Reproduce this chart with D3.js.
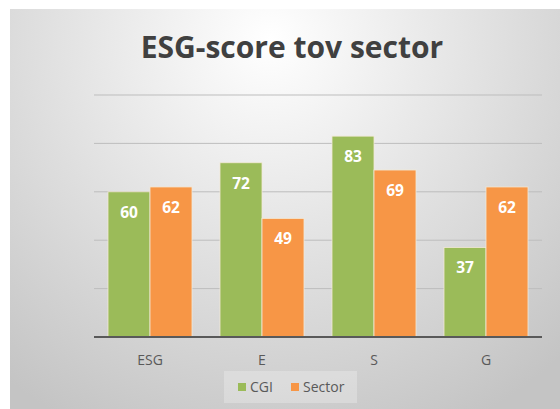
<!DOCTYPE html>
<html>
<head>
<meta charset="utf-8">
<script src="https://cdn.jsdelivr.net/npm/d3@7"></script>
<style>
  html, body { margin: 0; padding: 0; background: #fff; }
  svg { display: block; }
</style>
</head>
<body>
<svg id="chart" width="560" height="409"></svg>
<script>
// chart data
const categories = ['ESG', 'E', 'S', 'G'];
const seriesNames = ['CGI', 'Sector'];
const cgiValues = [60, 72, 83, 37];
const sectorValues = [62, 49, 69, 62];
const yTicks = [0, 20, 40, 60, 80, 100];
const colors = ['#9bbb59', '#f79646'];

const svg = d3.select('#chart');
const width = 560, height = 409;
const margin = { top: 95, right: 18, bottom: 72, left: 94 };

// background panel with soft gradient
const defs = svg.append('defs');
const grad = defs.append('radialGradient')
  .attr('id', 'bg')
  .attr('gradientUnits', 'userSpaceOnUse')
  .attr('cx', 270).attr('cy', 40).attr('r', 430);
grad.append('stop').attr('offset', '0%').attr('stop-color', '#ffffff');
grad.append('stop').attr('offset', '100%').attr('stop-color', '#c4c4c4');

svg.append('rect')
  .attr('x', 10).attr('y', 9)
  .attr('width', width - 10).attr('height', height - 9)
  .attr('fill', 'url(#bg)');

// scales
const x0 = d3.scaleBand()
  .domain(categories)
  .range([margin.left, width - margin.right])
  .padding(0);

const x1 = d3.scaleBand()
  .domain(seriesNames)
  .range([14, x0.bandwidth() - 14])
  .padding(0);

const y = d3.scaleLinear()
  .domain([0, 100])
  .range([height - margin.bottom, margin.top]);

// gridlines
svg.append('g')
  .selectAll('line')
  .data(yTicks.slice(1))
  .enter()
  .append('line')
  .attr('x1', margin.left)
  .attr('x2', width - margin.right)
  .attr('y1', d => y(d))
  .attr('y2', d => y(d))
  .attr('stroke', '#bdbdbd')
  .attr('stroke-width', 1);

// bars
const data = categories.map((c, i) => ({
  cat: c,
  values: [
    { name: 'CGI', value: cgiValues[i] },
    { name: 'Sector', value: sectorValues[i] }
  ]
}));

const groups = svg.append('g')
  .selectAll('g')
  .data(data)
  .enter()
  .append('g')
  .attr('transform', d => `translate(${x0(d.cat)},0)`);

groups.selectAll('rect')
  .data(d => d.values)
  .enter()
  .append('rect')
  .attr('x', d => x1(d.name))
  .attr('y', d => y(d.value))
  .attr('width', x1.bandwidth())
  .attr('height', d => y(0) - y(d.value))
  .attr('fill', (d, i) => colors[i])
  .attr('stroke', '#f3e9d6')
  .attr('stroke-width', 0.8);

// data labels
groups.selectAll('text')
  .data(d => d.values)
  .enter()
  .append('text')
  .attr('x', d => x1(d.name) + x1.bandwidth() / 2)
  .attr('y', d => y(d.value) + 26)
  .attr('text-anchor', 'middle')
  .attr('font-family', 'Open Sans, sans-serif')
  .attr('font-weight', 'bold')
  .attr('font-size', '15.5px')
  .attr('fill', '#ffffff')
  .text(d => d.value);

// baseline
svg.append('line')
  .attr('x1', margin.left)
  .attr('x2', width - margin.right)
  .attr('y1', y(0))
  .attr('y2', y(0))
  .attr('stroke', '#595959')
  .attr('stroke-width', 2);

// category labels
svg.append('g')
  .selectAll('text')
  .data(categories)
  .enter()
  .append('text')
  .attr('x', d => x0(d) + x0.bandwidth() / 2)
  .attr('y', y(0) + 28)
  .attr('text-anchor', 'middle')
  .attr('font-family', 'Open Sans, sans-serif')
  .attr('font-size', '14px')
  .attr('fill', '#595959')
  .text(d => d);

// title
svg.append('text')
  .attr('x', 292)
  .attr('y', 58)
  .attr('text-anchor', 'middle')
  .attr('font-family', 'Open Sans, sans-serif')
  .attr('font-weight', 'bold')
  .attr('font-size', '30px')
  .attr('fill', '#404040')
  .text('ESG-score tov sector');

// legend
const legend = svg.append('g');
legend.append('rect')
  .attr('x', 224).attr('y', 371)
  .attr('width', 133).attr('height', 32)
  .attr('fill', '#ffffff')
  .attr('fill-opacity', 0.25);

const legendItems = [
  { name: seriesNames[0], color: colors[0], x: 238 },
  { name: seriesNames[1], color: colors[1], x: 291 }
];
legendItems.forEach(item => {
  legend.append('rect')
    .attr('x', item.x).attr('y', 383)
    .attr('width', 8).attr('height', 8)
    .attr('fill', item.color);
  legend.append('text')
    .attr('x', item.x + 12)
    .attr('y', 392)
    .attr('font-family', 'Open Sans, sans-serif')
    .attr('font-size', '14px')
    .attr('fill', '#595959')
    .text(item.name);
});
</script>
</body>
</html>
